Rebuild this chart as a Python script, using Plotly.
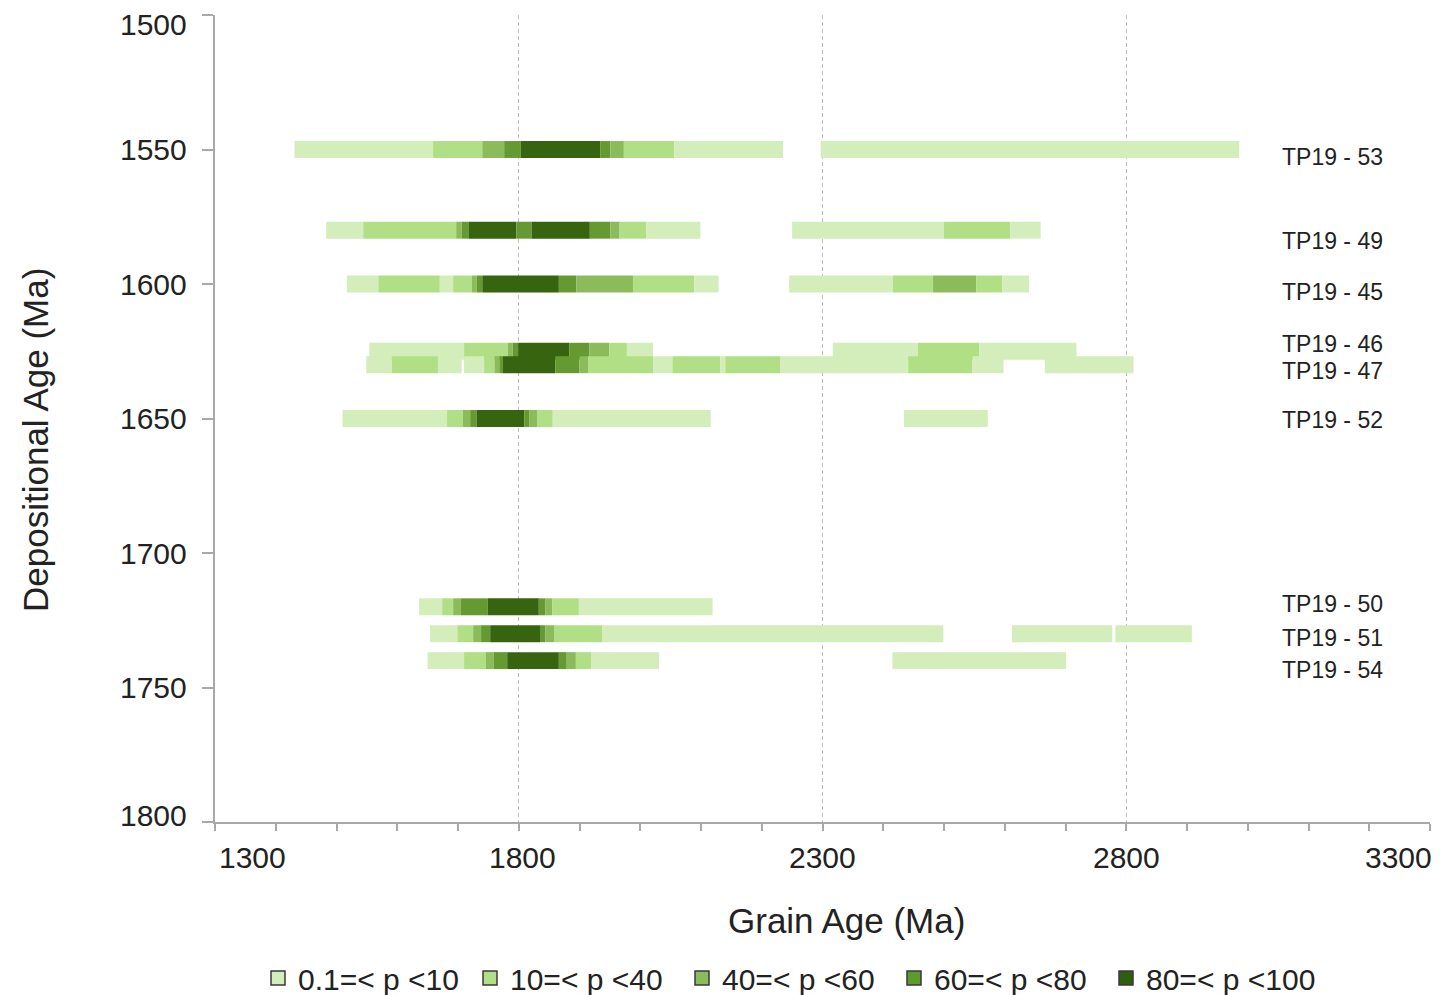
import plotly.graph_objects as go

# ---------------- data ----------------
# probability classes: 1: 0.1-10, 2: 10-40, 3: 40-60, 4: 60-80, 5: 80-100
class_labels = ["0.1=< p <10", "10=< p <40", "40=< p <60", "60=< p <80", "80=< p <100"]
class_colors = ["#D3EDBB", "#B0DF85", "#8BBB5A", "#649A31", "#36640F"]
legend_colors = ["#D3EDBB", "#B0DF85", "#8BBB5A", "#5F9A2E", "#2F5F0E"]

samples = ["TP19 - 53", "TP19 - 49", "TP19 - 45", "TP19 - 46", "TP19 - 47",
           "TP19 - 52", "TP19 - 50", "TP19 - 51", "TP19 - 54"]
depositional_age = [1550, 1580, 1600, 1625, 1630, 1650, 1720, 1730, 1740]
label_age = [1552.8, 1584, 1603, 1622.3, 1632.3, 1650.6, 1719, 1731.6, 1743.5]

TP19_53_start = [1431, 1659, 1740, 1776, 1803, 1934, 1951, 1973, 2056, 2297]
TP19_53_end   = [1659, 1740, 1776, 1803, 1934, 1951, 1973, 2056, 2235, 2986]
TP19_53_class = [1, 2, 3, 4, 5, 4, 3, 2, 1, 1]

TP19_49_start = [1483, 1544, 1697, 1706, 1718, 1796, 1821, 1917, 1951, 1966, 2010, 2250, 2500, 2609]
TP19_49_end   = [1544, 1697, 1706, 1718, 1796, 1821, 1917, 1951, 1966, 2010, 2099, 2500, 2609, 2659]
TP19_49_class = [1, 2, 3, 4, 5, 4, 5, 4, 3, 2, 1, 1, 2, 1]

TP19_45_start = [1517, 1569, 1670, 1692, 1723, 1731, 1740, 1866, 1895, 1988, 2089, 2245, 2416, 2482, 2553, 2596]
TP19_45_end   = [1569, 1670, 1692, 1723, 1731, 1740, 1866, 1895, 1988, 2089, 2129, 2416, 2482, 2553, 2596, 2640]
TP19_45_class = [1, 2, 1, 2, 3, 4, 5, 4, 3, 2, 1, 1, 2, 3, 2, 1]

TP19_46_start = [1554, 1710, 1782, 1790, 1799, 1883, 1916, 1949, 1978, 2317, 2457, 2558]
TP19_46_end   = [1710, 1782, 1790, 1799, 1883, 1916, 1949, 1978, 2021, 2457, 2558, 2718]
TP19_46_class = [1, 2, 3, 4, 5, 4, 3, 2, 1, 1, 2, 1]

TP19_47_start = [1549, 1591, 1667, 1710, 1743, 1760, 1768, 1774, 1860, 1900, 1914, 2021, 2053, 2132, 2140, 2230, 2441, 2547, 2666]
TP19_47_end   = [1591, 1667, 1706, 1743, 1760, 1768, 1774, 1860, 1900, 1914, 2021, 2053, 2132, 2140, 2230, 2441, 2547, 2598, 2812]
TP19_47_class = [1, 2, 1, 1, 2, 3, 4, 5, 4, 3, 2, 1, 2, 1, 2, 1, 2, 1, 1]

TP19_52_start = [1510, 1682, 1708, 1720, 1731, 1809, 1817, 1830, 1856, 2434]
TP19_52_end   = [1682, 1708, 1720, 1731, 1809, 1817, 1830, 1856, 2116, 2572]
TP19_52_class = [1, 2, 3, 4, 5, 4, 3, 2, 1, 1]

TP19_50_start = [1636, 1674, 1692, 1705, 1749, 1833, 1844, 1855, 1899]
TP19_50_end   = [1674, 1692, 1705, 1749, 1833, 1844, 1855, 1899, 2119]
TP19_50_class = [1, 2, 3, 4, 5, 4, 3, 2, 1]

TP19_51_start = [1654, 1699, 1725, 1738, 1753, 1835, 1844, 1858, 1937, 2612, 2782]
TP19_51_end   = [1699, 1725, 1738, 1753, 1835, 1844, 1858, 1937, 2499, 2777, 2908]
TP19_51_class = [1, 2, 3, 4, 5, 4, 3, 2, 1, 1, 1]

TP19_54_start = [1650, 1710, 1746, 1759, 1781, 1866, 1879, 1894, 1919, 2415]
TP19_54_end   = [1710, 1746, 1759, 1781, 1866, 1879, 1894, 1919, 2031, 2701]
TP19_54_class = [1, 2, 3, 4, 5, 4, 3, 2, 1, 1]

segments = [
    (TP19_53_start, TP19_53_end, TP19_53_class),
    (TP19_49_start, TP19_49_end, TP19_49_class),
    (TP19_45_start, TP19_45_end, TP19_45_class),
    (TP19_46_start, TP19_46_end, TP19_46_class),
    (TP19_47_start, TP19_47_end, TP19_47_class),
    (TP19_52_start, TP19_52_end, TP19_52_class),
    (TP19_50_start, TP19_50_end, TP19_50_class),
    (TP19_51_start, TP19_51_end, TP19_51_class),
    (TP19_54_start, TP19_54_end, TP19_54_class),
]

x_tick_vals = [1300, 1800, 2300, 2800, 3300]
x_tick_text = ["1300", "1800", "2300", "2800", "3300"]
y_tick_vals = [1500, 1550, 1600, 1650, 1700, 1750, 1800]
y_tick_text = ["1500", "1550", "1600", "1650", "1700", "1750", "1800"]

# ---------------- figure ----------------
FONT = "Liberation Sans, Arial, Helvetica, sans-serif"
TXT = "#222222"
AXC = "#A8A8A8"

fig = go.Figure()

for (st, en, cl), dep, name in zip(segments, depositional_age, samples):
    fig.add_trace(go.Bar(
        orientation="h",
        y=[dep] * len(st),
        base=st,
        x=[e - s for s, e in zip(st, en)],
        width=6.3,
        marker=dict(color=[class_colors[c - 1] for c in cl], line=dict(width=0)),
        showlegend=False,
        name=name,
        hovertemplate=name + ": %{base}-%{customdata} Ma<extra></extra>",
        customdata=en,
    ))

for lab, col in zip(class_labels, legend_colors):
    fig.add_trace(go.Scatter(
        x=[None], y=[None], mode="markers", name=lab,
        marker=dict(symbol="square", size=14, color=col, line=dict(color="#3A3A3A", width=1.5)),
    ))

annotations = []
for name, ly in zip(samples, label_age):
    annotations.append(dict(x=3053, y=ly, xref="x", yref="y", text=name, showarrow=False,
                            xanchor="left", yanchor="middle", font=dict(size=23, color=TXT, family=FONT)))

# x tick labels (placed like the original, which nudges the end labels inward)
x_anchor = ["left", "center", "center", "center", "right"]
x_shift = [2, 4, 0, 0, 4]
for v, t, a, s in zip(x_tick_vals, x_tick_text, x_anchor, x_shift):
    annotations.append(dict(x=v, y=-0.044, xref="x", yref="paper", text=t, showarrow=False,
                            xanchor=a, yanchor="middle", xshift=s,
                            font=dict(size=30, color=TXT, family=FONT)))

y_shift = {1500: -9, 1800: 7}
for v, t in zip(y_tick_vals, y_tick_text):
    annotations.append(dict(x=0, y=v, xref="paper", yref="y", text=t, showarrow=False,
                            xanchor="right", yanchor="middle", xshift=-26,
                            yshift=y_shift.get(v, 0),
                            font=dict(size=30, color=TXT, family=FONT)))

annotations.append(dict(x=(846 - 215) / 1215, y=(822 - 920) / 807, xref="paper", yref="paper",
                        text="Grain Age (Ma)", showarrow=False, xanchor="center", yanchor="middle",
                        font=dict(size=35, color=TXT, family=FONT)))
annotations.append(dict(x=(35 - 215) / 1215, y=(822 - 440) / 807, xref="paper", yref="paper",
                        text="Depositional Age (Ma)", showarrow=False, textangle=-90,
                        xanchor="center", yanchor="middle",
                        font=dict(size=35, color=TXT, family=FONT)))

fig.update_layout(
    width=1443, height=995,
    margin=dict(l=215, r=13, t=15, b=173, autoexpand=False),
    paper_bgcolor="white", plot_bgcolor="white",
    barmode="overlay",
    font=dict(family=FONT, color=TXT),
    showlegend=True,
    legend=dict(orientation="h", xref="container", x=258 / 1443, xanchor="left",
                yref="container", y=(995 - 978) / 995, yanchor="middle",
                font=dict(size=30, color=TXT, family=FONT),
                entrywidth=167, entrywidthmode="pixels",
                bgcolor="rgba(0,0,0,0)", traceorder="normal"),
    annotations=annotations,
    xaxis=dict(range=[1300, 3300], tick0=1300, dtick=500, showticklabels=False,
               ticks="outside", ticklen=7, tickwidth=2, tickcolor=AXC,
               showline=True, linecolor=AXC, linewidth=2,
               showgrid=True, gridcolor="#BDBDBD", gridwidth=1, griddash="4px,3px",
               minor=dict(tick0=1300, dtick=100, ticks="outside", ticklen=7, tickwidth=2,
                          tickcolor=AXC, showgrid=False),
               zeroline=False, fixedrange=True),
    yaxis=dict(range=[1800, 1500], tick0=1500, dtick=50, showticklabels=False,
               ticks="outside", ticklen=11, tickwidth=2, tickcolor=AXC,
               showline=True, linecolor=AXC, linewidth=2,
               showgrid=False, zeroline=False, fixedrange=True),
)

fig.write_html("out.html")
